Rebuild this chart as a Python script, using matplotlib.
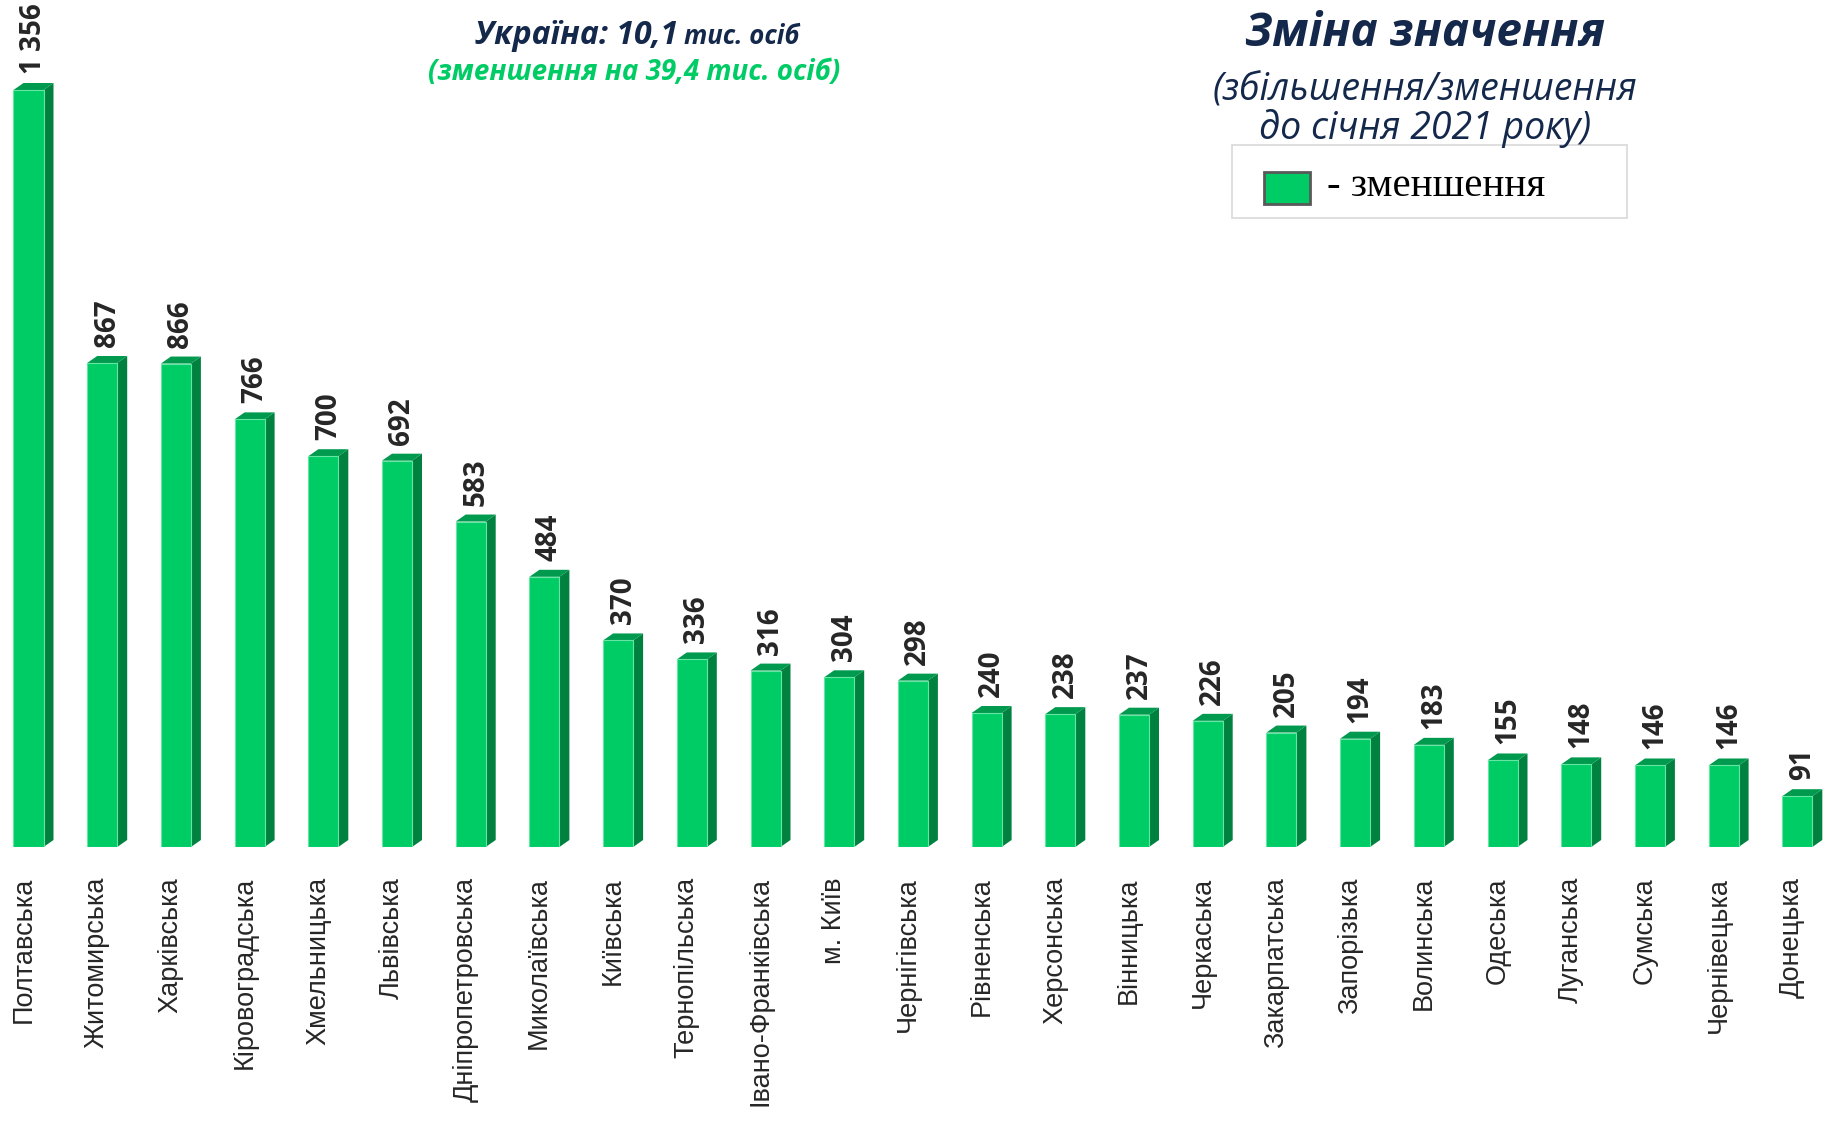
#!/usr/bin/env python3

import numpy as np
import matplotlib
matplotlib.use('Agg')
import matplotlib.pyplot as plt
from matplotlib.patches import Polygon, Rectangle

regions = ['Полтавська', 'Житомирська', 'Харківська', 'Кіровоградська', 'Хмельницька',
           'Львівська', 'Дніпропетровська', 'Миколаївська', 'Київська', 'Тернопільська',
           'Івано-Франківська', 'м. Київ', 'Чернігівська', 'Рівненська', 'Херсонська',
           'Вінницька', 'Черкаська', 'Закарпатська', 'Запорізька', 'Волинська',
           'Одеська', 'Луганська', 'Сумська', 'Чернівецька', 'Донецька']
values = [1356, 867, 866, 766, 700, 692, 583, 484, 370, 336, 316, 304, 298, 240, 238,
          237, 226, 205, 194, 183, 155, 148, 146, 146, 91]

front_col = '#00cc66'
side_col = '#00813f'
top_col = '#009a4e'
navy = '#14284b'

plt.rcParams['font.family'] = ['Open Sans', 'DejaVu Sans']

W, H = 1829, 1125
fig = plt.figure(figsize=(W / 100, H / 100), dpi=100)

# axes: bar base at 847 px from top, ~73.7 px per bar
base_px = 847
ax = fig.add_axes([0, (H - base_px) / H, 1, base_px / H])
px_per_bar = 73.7
px_per_unit = 757 / 1356
x0 = -28.5 / px_per_bar
ax.set_xlim(x0, x0 + W / px_per_bar)
ax.set_ylim(0, base_px / px_per_unit)
ax.axis('off')

x = np.arange(len(values))
bw = 30 / px_per_bar
dx = 10 / px_per_bar
dy = 7 / px_per_unit

ax.bar(x, values, width=bw, color=front_col, edgecolor='#66e6a3', linewidth=0.8, zorder=3)
for xi, v in zip(x, values):
    r = xi + bw / 2
    l = xi - bw / 2
    side = Polygon([(r, 0), (r + dx, dy), (r + dx, v + dy), (r, v)], closed=True,
                   facecolor=side_col, edgecolor='none', zorder=2)
    top = Polygon([(l, v), (l + dx, v + dy), (r + dx, v + dy), (r, v)], closed=True,
                  facecolor=top_col, edgecolor='none', zorder=2)
    ax.add_patch(side)
    ax.add_patch(top)
    lbl = f'{v:,}'.replace(',', ' ')
    ax.text(xi + dx / 2, v + dy + 9 / px_per_unit, lbl, rotation=90, ha='center', va='bottom',
            fontsize=20, fontweight='bold', color='#262626')

# category labels under the bars
for xi, name in zip(x, regions):
    ax.text(xi - 0.07, -30 / px_per_unit, name, rotation=90, ha='center', va='top',
            fontsize=19.5, color='#262626', family=['Liberation Sans', 'DejaVu Sans'])

# headline texts
fig.text(678 / W, 1 - 35 / H, 'Україна: 10,1', ha='right', va='center', fontsize=23,
         fontweight='bold', style='italic', color=navy)
fig.text(684 / W, 1 - 37 / H, 'тис. осіб', ha='left', va='center', fontsize=18.5,
         fontweight='bold', style='italic', color=navy)
fig.text(634 / W, 1 - 73 / H, '(зменшення на 39,4 тис. осіб)', ha='center', va='center',
         fontsize=20, fontweight='bold', style='italic', color='#00cc66')

fig.text(1425 / W, 1 - 33 / H, 'Зміна значення', ha='center', va='center', fontsize=33,
         fontweight='bold', style='italic', color=navy)
fig.text(1425 / W, 1 - 90 / H, '(збільшення/зменшення', ha='center', va='center', fontsize=27,
         style='italic', color=navy)
fig.text(1425 / W, 1 - 129 / H, 'до січня 2021 року)', ha='center', va='center', fontsize=27,
         style='italic', color=navy)

# legend box
fig.patches.append(Rectangle((1232 / W, 1 - 218 / H), 395 / W, 73 / H, transform=fig.transFigure,
                             facecolor='white', edgecolor='#d9d9d9', linewidth=1.2))
fig.patches.append(Rectangle((1264 / W, 1 - 204 / H), 46 / W, 32 / H, transform=fig.transFigure,
                             facecolor=front_col, edgecolor='#595959', linewidth=2))
fig.text(1327 / W, 1 - 186 / H, '- зменшення', ha='left', va='center', fontsize=29.5,
         color='black', family=['Liberation Serif', 'DejaVu Serif'])

fig.savefig('out.png', dpi=100)
